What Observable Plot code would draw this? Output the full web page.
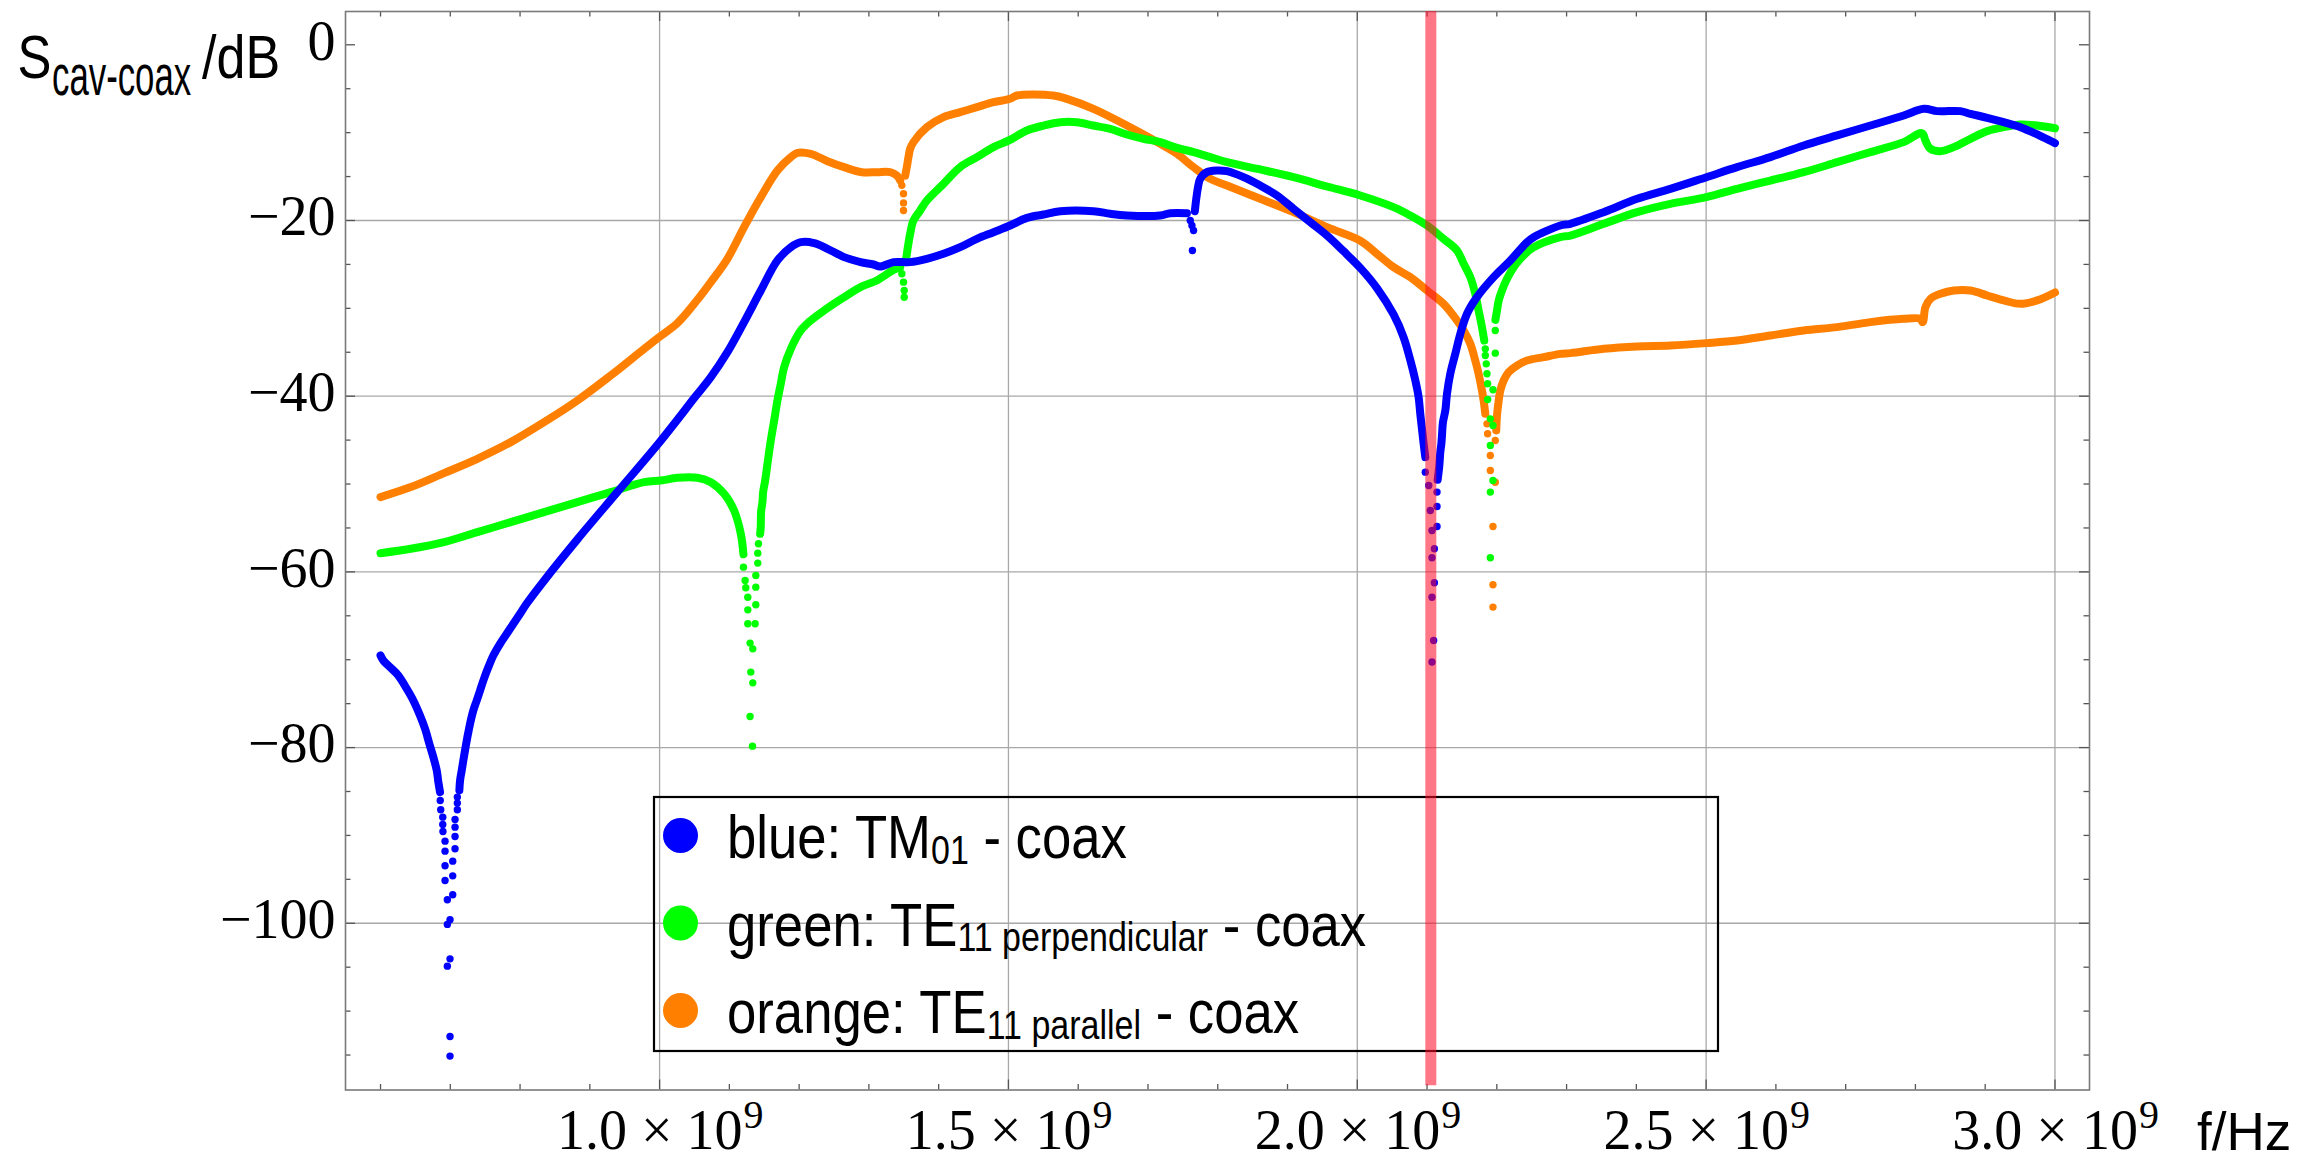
<!DOCTYPE html>
<html>
<head>
<meta charset="utf-8">
<script src="https://cdn.jsdelivr.net/npm/d3@7"></script>
<script src="https://cdn.jsdelivr.net/npm/@observablehq/plot@0.6"></script>
<style>
  html, body { margin: 0; padding: 0; background: #ffffff; }
  #chart svg { display: block; }
</style>
</head>
<body>
<div id="chart"></div>
<script>
// Cavity-to-coax coupling versus frequency for three cavity modes.
// Frequencies in GHz, coupling in dB. Each trace is stored as continuous
// runs (drawn as a thick polyline) plus the sparse samples around each
// notch (drawn as individual dots).

// ---- TM01 - coax (blue) ----
const blueRuns = [
  [[0.600,-69.5],[0.604,-70.09],[0.6136,-70.84],[0.6255,-71.79],[0.6376,-73.31],[0.647,-74.64],[0.6566,-76.35],[0.6638,-77.86],[0.670,-79.57],[0.6757,-81.09],[0.6806,-82.61],[0.6829,-83.94],[0.6853,-85.07]],
  [[0.7130,-84.88],[0.7140,-83.74],[0.7164,-82.61],[0.7187,-81.47],[0.7211,-80.33],[0.7236,-79.19],[0.7259,-78.24],[0.7283,-77.29],[0.7330,-75.78],[0.7379,-74.64],[0.7427,-73.5],[0.7474,-72.36],[0.7546,-70.84],[0.7617,-69.52],[0.7713,-68.19],[0.7809,-67.05],[0.7904,-65.91],[0.8000,-64.77],[0.8096,-63.6],[0.8344,-61.0],[0.8822,-56.3],[0.9396,-50.9],[0.9993,-45.3],[1.0519,-39.99],[1.0734,-37.83],[1.0972,-34.99],[1.1211,-31.57],[1.1451,-27.97],[1.1689,-24.55],[1.1881,-23.04],[1.2024,-22.47],[1.2215,-22.58],[1.2406,-23.22],[1.2645,-24.17],[1.2880,-24.74],[1.3066,-25.01],[1.3161,-25.24],[1.3352,-24.74],[1.3591,-24.74],[1.3831,-24.36],[1.4069,-23.79],[1.4308,-23.04],[1.4548,-22.09],[1.4786,-21.33],[1.5025,-20.57],[1.5265,-19.70],[1.5503,-19.32],[1.5742,-18.94],[1.6219,-18.94],[1.6459,-19.24],[1.6698,-19.43],[1.7176,-19.43],[1.7319,-19.17],[1.7558,-19.17]],
  [[1.7672,-18.94],[1.7686,-17.91],[1.7702,-16.96],[1.7717,-16.2],[1.7749,-15.26],[1.7845,-14.5],[1.7988,-14.31],[1.8132,-14.39],[1.8370,-15.07],[1.8609,-16.02],[1.8849,-17.15],[1.9087,-18.67],[1.9326,-20.19],[1.9566,-21.71],[1.9804,-23.5],[2.0043,-25.4],[2.0282,-27.7],[2.0520,-30.7],[2.0664,-33.3],[2.0760,-35.9],[2.0832,-38.2],[2.0879,-40.11],[2.0903,-42.01],[2.0927,-43.71],[2.0951,-45.42],[2.0975,-46.94]],
  [[2.1152,-49.52],[2.1176,-47.9],[2.1190,-46.37],[2.1205,-45.42],[2.1214,-44.47],[2.1228,-42.96],[2.1262,-41.63],[2.1286,-39.73],[2.1333,-37.45],[2.1405,-35.18],[2.1477,-32.9],[2.1573,-30.62],[2.1715,-28.73],[2.1954,-26.45],[2.2194,-24.55],[2.2433,-22.47],[2.2528,-21.9],[2.2910,-20.57],[2.3054,-20.38],[2.3531,-19.05],[2.4010,-17.53],[2.4487,-16.4],[2.5004,-15.07],[2.5444,-13.93],[2.5921,-12.79],[2.6399,-11.46],[2.6878,-10.32],[2.7355,-9.19],[2.7832,-8.05],[2.8119,-7.29],[2.8311,-7.55],[2.8645,-7.55],[2.8789,-7.86],[2.9028,-8.31],[2.9266,-8.81],[2.9505,-9.38],[2.9745,-10.21],[3.0000,-11.2]]
];
const blueNotchPoints = [
  [0.6856,-86.02],[0.6863,-87.08],[0.6892,-87.92],[0.6892,-88.75],[0.6895,-89.55],[0.6925,-90.65],[0.6925,-91.79],[0.6925,-93.46],[0.6925,-95.13],[0.6958,-97.33],[0.6958,-100.13],[0.6958,-104.88],[0.6996,-112.89],[0.6996,-115.12],[0.6996,-99.6],[0.6996,-104.05],[0.7035,-96.76],[0.7035,-94.6],[0.7035,-92.93],[0.7068,-91.52],[0.7068,-90.12],[0.7068,-89.06],[0.7068,-88.18],[0.7101,-87.08],[0.7101,-86.32],[0.7101,-85.64],
  [1.7606,-20.0],[1.7630,-20.57],[1.7653,-21.14],[1.7637,-23.41],
  [2.0975,-48.65],[2.1024,-50.16],[2.1047,-53.01],[2.1071,-55.29],[2.1071,-58.40],[2.1105,-57.37],[2.1105,-61.24],[2.1071,-62.88],[2.1094,-67.81],[2.1071,-70.26],[2.1143,-54.83],[2.1143,-52.56],[2.1143,-50.92]
];

// ---- TE11 perpendicular - coax (green) ----
const greenRuns = [
  [[0.600,-57.87],[0.6433,-57.37],[0.6910,-56.61],[0.7388,-55.48],[0.7867,-54.34],[0.8344,-53.20],[0.8822,-52.06],[0.9300,-50.92],[0.9778,-49.79],[1.0017,-49.60],[1.0255,-49.29],[1.0542,-49.29],[1.0734,-49.79],[1.0925,-51.11],[1.1068,-53.01],[1.1164,-55.67],[1.1202,-58.0]],
  [[1.1441,-55.67],[1.1450,-54.83],[1.1455,-53.12],[1.1474,-52.06],[1.1484,-50.92],[1.1513,-49.6],[1.1546,-47.7],[1.1594,-45.04],[1.1642,-42.77],[1.1689,-40.49],[1.1737,-38.59],[1.1785,-36.7],[1.1881,-34.61],[1.2024,-32.52],[1.2167,-31.38],[1.2358,-30.24],[1.2645,-28.73],[1.2900,-27.5],[1.3114,-26.83],[1.3352,-25.62],[1.3448,-25.31]],
  [[1.3530,-24.6],[1.3544,-23.79],[1.3591,-21.52],[1.3639,-20.0],[1.3735,-18.86],[1.3831,-17.72],[1.4069,-15.83],[1.4308,-13.93],[1.4548,-12.79],[1.4786,-11.65],[1.5006,-10.89],[1.5265,-9.75],[1.5503,-9.19],[1.5742,-8.81],[1.5981,-8.81],[1.6219,-9.19],[1.6459,-9.57],[1.6698,-10.21],[1.6936,-10.70],[1.7176,-11.08],[1.7415,-11.73],[1.7653,-12.22],[1.7892,-12.79],[1.8132,-13.36],[1.8609,-14.19],[1.9087,-15.07],[1.9566,-16.13],[2.0043,-17.15],[2.0520,-18.48],[2.0760,-19.43],[2.1000,-20.57],[2.1237,-22.09],[2.1429,-23.41],[2.1525,-24.93],[2.1620,-26.45],[2.1691,-28.35],[2.1739,-30.24],[2.1787,-32.14],[2.1820,-33.66]],
  [[2.1980,-31.31],[2.2003,-30.24],[2.2027,-29.1],[2.2074,-27.97],[2.2146,-26.64],[2.2241,-25.31],[2.2337,-24.36],[2.2433,-23.6],[2.2528,-23.04],[2.2910,-21.9],[2.3054,-21.71],[2.3531,-20.38],[2.4010,-19.05],[2.4487,-18.1],[2.5004,-17.34],[2.5444,-16.4],[2.5921,-15.45],[2.6399,-14.5],[2.6878,-13.36],[2.7355,-12.22],[2.7832,-11.08],[2.8095,-10.06],[2.8143,-10.89],[2.8215,-11.84],[2.8359,-12.11],[2.8549,-11.65],[2.8789,-10.70],[2.9028,-9.83],[2.9266,-9.38],[2.9505,-9.07],[2.9745,-9.19],[3.0000,-9.5]]
];
const greenNotchPoints = [
  [1.1202,-59.46],[1.1226,-60.98],[1.1235,-61.81],[1.1264,-62.88],[1.1264,-64.32],[1.1264,-65.91],[1.1297,-68.11],[1.1307,-71.41],[1.1297,-76.46],[1.1331,-79.84],[1.1336,-68.76],[1.1336,-72.63],[1.1369,-65.91],[1.1379,-63.75],[1.1379,-61.74],[1.1379,-60.41],[1.1407,-59.0],[1.1407,-57.87],[1.1417,-56.8],
  [1.3472,-26.07],[1.3496,-27.02],[1.3506,-27.97],[1.3506,-28.73],
  [2.1835,-34.61],[2.1835,-35.37],[2.1849,-36.32],[2.1859,-37.45],[2.1868,-38.59],[2.1868,-40.38],[2.1907,-42.58],[2.1907,-45.61],[2.1907,-50.92],[2.1907,-58.4],[2.1945,-49.6],[2.1945,-43.34],[2.1945,-39.27],[2.1978,-35.1],[2.1978,-32.52]
];

// ---- TE11 parallel - coax (orange) ----
const orangeRuns = [
  [[0.600,-51.49],[0.6433,-50.35],[0.6910,-48.76],[0.7388,-47.13],[0.7867,-45.23],[0.8344,-42.96],[0.8822,-40.49],[0.9300,-37.64],[0.9778,-34.61],[0.9993,-33.28],[1.0255,-31.69],[1.0542,-29.03],[1.0734,-27.02],[1.0972,-24.36],[1.1211,-20.76],[1.1451,-17.34],[1.1689,-14.31],[1.1881,-12.79],[1.1976,-12.30],[1.2168,-12.41],[1.2406,-13.25],[1.2645,-13.93],[1.2900,-14.5],[1.3114,-14.5],[1.3305,-14.5],[1.3400,-14.88],[1.3448,-15.45]],
  [[1.3520,-14.9],[1.3544,-13.9],[1.3567,-12.79],[1.3591,-11.85],[1.3639,-11.08],[1.3831,-9.38],[1.4069,-8.24],[1.4308,-7.67],[1.4548,-7.1],[1.4786,-6.53],[1.5025,-6.15],[1.5121,-5.77],[1.5646,-5.77],[1.5838,-6.15],[1.6219,-7.29],[1.6698,-9.19],[1.7176,-11.27],[1.7415,-12.41],[1.7653,-13.93],[1.7892,-15.26],[1.8132,-16.02],[1.8609,-17.53],[1.9087,-19.05],[1.9566,-20.76],[2.0043,-22.3],[2.0282,-23.79],[2.0520,-25.31],[2.0760,-26.45],[2.1000,-27.97],[2.1237,-29.49],[2.1429,-31.38],[2.1525,-32.52],[2.1620,-34.04],[2.1691,-35.94],[2.1739,-37.45],[2.1787,-39.35],[2.1811,-40.49],[2.1835,-42.01]],
  [[2.1992,-43.9],[2.2003,-42.2],[2.2027,-40.49],[2.2050,-39.35],[2.2098,-38.21],[2.2170,-37.26],[2.2289,-36.51],[2.2433,-35.94],[2.2671,-35.56],[2.2910,-35.18],[2.3054,-35.1],[2.3531,-34.61],[2.4010,-34.34],[2.4487,-34.23],[2.5004,-33.96],[2.5444,-33.66],[2.5921,-33.09],[2.6399,-32.52],[2.6878,-32.14],[2.7355,-31.57],[2.7832,-31.19],[2.8070,-31.19],[2.8105,-31.57],[2.8143,-29.86],[2.8215,-28.92],[2.8359,-28.35],[2.8549,-27.97],[2.8789,-27.97],[2.9028,-28.54],[2.9266,-29.1],[2.9505,-29.49],[2.9745,-29.1],[3.0000,-28.2]]
];
const orangeNotchPoints = [
  [1.3472,-16.0],[1.3496,-16.96],[1.3496,-18.0],[1.3496,-18.86],
  [2.1859,-43.15],[2.1868,-44.28],[2.1907,-46.75],[2.1907,-48.46],[2.1945,-54.83],[2.1945,-61.47],[2.1945,-64.01],[2.1978,-49.79],[2.1978,-45.04]
];

// Marker frequency (GHz) of the highlighted operating point.
const markerFreq = 2.1054;

// Axis ticks and labels.
const xMajorTicks = [1.0, 1.5, 2.0, 2.5, 3.0];
const xMinorTicks = [0.6, 0.7, 0.8, 0.9, 1.1, 1.2, 1.3, 1.4, 1.6, 1.7, 1.8, 1.9, 2.1, 2.2, 2.3, 2.4, 2.6, 2.7, 2.8, 2.9];
const xTickLabels = ["1.0", "1.5", "2.0", "2.5", "3.0"];
const yMajorTicks = [0, -20, -40, -60, -80, -100];
const yMinorTicks = [-5, -10, -15, -25, -30, -35, -45, -50, -55, -65, -70, -75, -85, -90, -95, -105, -110, -115];
const yGrid = [-20, -40, -60, -80, -100];

const legendEntries = [
  {name: "blue: TM", sub: "01", tail: " - coax", color: "#0000ff"},
  {name: "green: TE", sub: "11 perpendicular", tail: " - coax", color: "#00ff00"},
  {name: "orange: TE", sub: "11 parallel", tail: " - coax", color: "#ff8000"}
];

const series = [
  {key: "orange", color: "#ff8000", runs: orangeRuns, notch: orangeNotchPoints},
  {key: "green", color: "#00ff00", runs: greenRuns, notch: greenNotchPoints},
  {key: "blue", color: "#0000ff", runs: blueRuns, notch: blueNotchPoints}
];

const GHz = 1e9;
const W = 2307, H = 1157;
const mL = 345, mR = 218, mT = 11, mB = 67.5;
const innerW = W - mL - mR, innerH = H - mT - mB;
const yDomain = [-118.98, 3.79];

const traceMarks = series.flatMap(({key, color, runs, notch}) => {
  const lineRows = runs.flatMap((run, i) => run.map(([f, s]) => ({f: f * GHz, s, run: key + i})));
  const dotRows = notch.map(([f, s]) => ({f: f * GHz, s}));
  return [
    Plot.line(lineRows, {x: "f", y: "s", z: "run", stroke: color, strokeWidth: 8,
      strokeLinecap: "round", strokeLinejoin: "round", curve: "catmull-rom"}),
    Plot.dot(dotRows, {x: "f", y: "s", r: 3.7, fill: color, stroke: "none"})
  ];
});

const tickStyle = {stroke: "#555555", strokeWidth: 1.3, strokeOpacity: 1};
const majorLen = 10, minorLen = 5.5;
const xMajor = xMajorTicks.map(d => d * GHz), xMinor = xMinorTicks.map(d => d * GHz);

const chart = Plot.plot({
  width: W, height: H,
  marginLeft: mL, marginRight: mR, marginTop: mT, marginBottom: mB,
  style: {fontFamily: "Liberation Serif", background: "#ffffff"},
  x: {type: "linear", domain: [0.5498 * GHz, 3.0495 * GHz]},
  y: {type: "linear", domain: yDomain},
  marks: [
    // grid
    Plot.ruleX(xMajor, {stroke: "#a8a8a8", strokeWidth: 1.3, strokeOpacity: 1}),
    Plot.ruleY(yGrid, {stroke: "#a8a8a8", strokeWidth: 1.3, strokeOpacity: 1}),
    // inward frame ticks on all four sides
    Plot.ruleX(xMajor, {...tickStyle, insetTop: innerH - majorLen}),
    Plot.ruleX(xMinor, {...tickStyle, insetTop: innerH - minorLen}),
    Plot.ruleX(xMajor, {...tickStyle, insetBottom: innerH - majorLen}),
    Plot.ruleX(xMinor, {...tickStyle, insetBottom: innerH - minorLen}),
    Plot.ruleY(yMajorTicks, {...tickStyle, insetRight: innerW - majorLen}),
    Plot.ruleY(yMinorTicks, {...tickStyle, insetRight: innerW - minorLen}),
    Plot.ruleY(yMajorTicks, {...tickStyle, insetLeft: innerW - majorLen}),
    Plot.ruleY(yMinorTicks, {...tickStyle, insetLeft: innerW - minorLen}),
    Plot.frame({stroke: "#7a7a7a", strokeWidth: 1.6}),
    // tick labels
    Plot.axisY(yMajorTicks, {label: null, tickSize: 0, tickPadding: 10, fontSize: 56,
      fontFamily: "Liberation Serif", fill: "#000000",
      tickFormat: d => d === 0 ? "0" : "\u2212" + Math.abs(d), dy: -3}),
    Plot.axisX(xMajor, {label: null, tickSize: 0, tickPadding: 19, fontSize: 56,
      fontFamily: "Liberation Serif", fill: "#000000", textAnchor: "end", dx: 83,
      tickFormat: d => xTickLabels[xMajor.indexOf(d)] + " \u00d7 10"}),
    Plot.axisX(xMajor, {label: null, tickSize: 0, tickPadding: 19, fontSize: 40,
      fontFamily: "Liberation Serif", fill: "#000000", textAnchor: "start", dx: 84, dy: -9,
      tickFormat: () => "9"}),
    // traces
    ...traceMarks,
    // highlighted operating frequency
    Plot.ruleX([markerFreq * GHz], {y1: -118.5, y2: yDomain[1], stroke: "#ff0a28",
      strokeOpacity: 0.56, strokeWidth: 11})
  ]
});

document.getElementById("chart").append(chart);
const svg = d3.select(chart);
const markerNode = chart.lastElementChild;

function condensedText(parent, x, y, sx, size, family) {
  return parent.append("text")
    .attr("transform", `translate(${x},${y}) scale(${sx},1)`)
    .attr("text-anchor", "start")
    .attr("font-family", family)
    .attr("font-size", size)
    .attr("fill", "#000000")
    .style("white-space", "pre");
}

// Legend box inside the plot area, under the marker line.
const legend = d3.create("svg:g");
legend.append("rect")
  .attr("x", 654).attr("y", 797).attr("width", 1064).attr("height", 254)
  .attr("fill", "none").attr("stroke", "#000000").attr("stroke-width", 2.2);
legendEntries.forEach((e, i) => {
  const base = 858 + i * 87.5;
  legend.append("circle").attr("cx", 680.5).attr("cy", base - 22.5).attr("r", 17.5).attr("fill", e.color);
  const t = condensedText(legend, 727, base, 0.85, 62, "Liberation Sans");
  t.append("tspan").text(e.name);
  t.append("tspan").attr("font-size", 40).attr("dy", 5.5).text(e.sub);
  t.append("tspan").attr("dy", -5.5).text(e.tail);
});
chart.insertBefore(legend.node(), markerNode);

// Axis titles.
condensedText(svg, 17.5, 78, 0.82, 62, "Liberation Sans").text("S");
condensedText(svg, 52, 95, 0.6, 58, "Liberation Sans").text("cav-coax");
condensedText(svg, 202, 78, 0.84, 62, "Liberation Sans").text("/dB");
condensedText(svg, 2197, 1150, 1, 53, "Liberation Sans").text("f/Hz");
</script>
</body>
</html>
